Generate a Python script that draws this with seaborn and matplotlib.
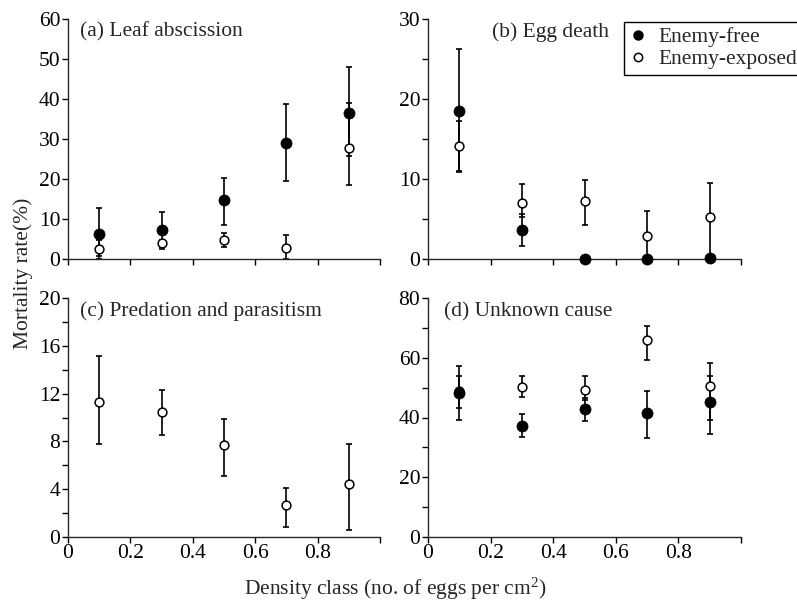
import numpy as np
import pandas as pd
import matplotlib
matplotlib.use("Agg")
import matplotlib.pyplot as plt
from matplotlib.lines import Line2D
from matplotlib.ticker import MultipleLocator, FuncFormatter
import seaborn as sns

# density classes (eggs per cm2)
density = [0.1, 0.3, 0.5, 0.7, 0.9]

# (a) leaf abscission
a_free = [6.1, 7.1, 14.7, 29.0, 36.5]
a_free_lo = [0.0, 2.5, 8.5, 19.3, 25.6]
a_free_hi = [12.6, 11.7, 20.1, 38.6, 47.9]
a_exp = [2.5, 3.8, 4.6, 2.7, 27.8]
a_exp_lo = [0.7, 3.0, 2.9, 0.0, 18.5]
a_exp_hi = [4.6, 4.6, 6.3, 5.8, 39.0]

# (b) egg death
b_free = [18.5, 3.6, 0.0, 0.0, 0.1]
b_free_lo = [10.8, 1.6, 0.0, 0.0, 0.1]
b_free_hi = [26.2, 5.6, 0.0, 0.0, 0.1]
b_exp = [14.1, 7.0, 7.2, 2.8, 5.2]
b_exp_lo = [11.0, 5.2, 4.2, 0.0, 0.0]
b_exp_hi = [17.2, 9.3, 9.8, 6.0, 9.4]

# (c) predation and parasitism (exposed only)
c_exp = [11.3, 10.5, 7.7, 2.7, 4.4]
c_exp_lo = [7.75, 8.5, 5.1, 0.85, 0.6]
c_exp_hi = [15.2, 12.3, 9.9, 4.1, 7.75]

# (d) unknown cause
d_free = [48.2, 37.0, 42.7, 41.4, 45.3]
d_free_lo = [39.2, 33.6, 38.7, 33.0, 34.5]
d_free_hi = [57.3, 41.3, 46.7, 48.8, 54.0]
d_exp = [48.9, 50.2, 49.1, 66.0, 50.6]
d_exp_lo = [43.3, 46.9, 45.8, 59.3, 39.2]
d_exp_hi = [54.0, 54.0, 54.0, 70.7, 58.4]

sns.set_style("ticks")
plt.rcParams['font.family'] = ['Liberation Serif', 'DejaVu Serif']
plt.rcParams['mathtext.fontset'] = 'custom'
plt.rcParams['mathtext.rm'] = 'Liberation Serif'
plt.rcParams['mathtext.it'] = 'Liberation Serif:italic'
plt.rcParams['axes.linewidth'] = 1.0
FS = 15.5

fig = plt.figure(figsize=(7.97, 6.04), dpi=100)
W, H = 797.0, 604.0
def make_ax(l, t, r, b):
    return fig.add_axes([l / W, 1 - b / H, (r - l) / W, (b - t) / H])

ax_a = make_ax(68, 19, 380, 258.5)
ax_b = make_ax(428, 19, 741, 258.5)
ax_c = make_ax(68, 298.3, 380, 536.7)
ax_d = make_ax(428, 298.3, 741, 536.7)


def draw(ax, mean, lo, hi, filled):
    mean = np.array(mean); lo = np.array(lo); hi = np.array(hi)
    ax.errorbar(density, mean, yerr=[mean - lo, hi - mean], fmt='none',
                ecolor='black', elinewidth=1.2, capsize=2.2, capthick=1.2,
                clip_on=False, zorder=2)
    df = pd.DataFrame({'x': density, 'y': mean})
    if filled:
        sns.scatterplot(data=df, x='x', y='y', ax=ax, s=64, color='black',
                        edgecolor='black', linewidth=0.5, clip_on=False, zorder=4)
    else:
        sns.scatterplot(data=df, x='x', y='y', ax=ax, s=40, color='white',
                        edgecolor='black', linewidth=1.1, clip_on=False, zorder=3)


draw(ax_a, a_exp, a_exp_lo, a_exp_hi, False)
draw(ax_a, a_free, a_free_lo, a_free_hi, True)
draw(ax_b, b_exp, b_exp_lo, b_exp_hi, False)
draw(ax_b, b_free, b_free_lo, b_free_hi, True)
draw(ax_c, c_exp, c_exp_lo, c_exp_hi, False)
draw(ax_d, d_exp, d_exp_lo, d_exp_hi, False)
draw(ax_d, d_free, d_free_lo, d_free_hi, True)

setup = [
    (ax_a, 60, 10, None, '(a) Leaf abscission', 0.038),
    (ax_b, 30, 10, 5, '(b) Egg death', 0.204),
    (ax_c, 20, 4, 2, '(c) Predation and parasitism', 0.038),
    (ax_d, 80, 20, 10, '(d) Unknown cause', 0.052),
]
xfmt = FuncFormatter(lambda v, p: '0' if abs(v) < 1e-9 else ('' if v > 0.95 else f'{v:.1f}'))
for ax, ymax, major, minor, title, tx in setup:
    sns.despine(ax=ax)
    ax.set_xlim(0, 1.0)
    ax.set_ylim(0, ymax)
    ax.xaxis.set_major_locator(MultipleLocator(0.2))
    ax.yaxis.set_major_locator(MultipleLocator(major))
    if minor:
        ax.yaxis.set_minor_locator(MultipleLocator(minor))
    ax.yaxis.set_major_formatter(FuncFormatter(lambda v, p: f'{v:g}'))
    ax.xaxis.set_major_formatter(xfmt)
    ax.tick_params(which='both', direction='out', length=4, width=1.0,
                   labelsize=FS, pad=1.5, colors='black')
    ax.set_xlabel('')
    ax.set_ylabel('')
    ax.text(tx, 0.945, title, transform=ax.transAxes, fontsize=FS,
            ha='left', va='center')

ax_a.tick_params(labelbottom=False)
ax_b.tick_params(labelbottom=False)

fig.text(23 / W, 1 - 273 / H, 'Mortality rate(%)', rotation=90,
         ha='center', va='center', fontsize=FS)
fig.text(395 / W, 1 - 595 / H, 'Density class (no. of eggs per cm$^{2}$)',
         ha='center', va='baseline', fontsize=FS)

handles = [
    Line2D([], [], marker='o', linestyle='none', markersize=6.5,
           markerfacecolor='black', markeredgecolor='black'),
    Line2D([], [], marker='o', linestyle='none', markersize=6.0,
           markerfacecolor='white', markeredgecolor='black', markeredgewidth=1.1),
]
leg = fig.legend(handles, ['Enemy-free', 'Enemy-exposed'],
                 loc='upper left', bbox_to_anchor=(624 / W, 1 - 21.7 / H),
                 fontsize=FS, frameon=True, fancybox=False, framealpha=1,
                 edgecolor='black', borderpad=0.25, labelspacing=0.1,
                 handlelength=0.8, handletextpad=0.55, borderaxespad=0)
leg.get_frame().set_linewidth(1.0)

fig.savefig('out.png', dpi=100)
